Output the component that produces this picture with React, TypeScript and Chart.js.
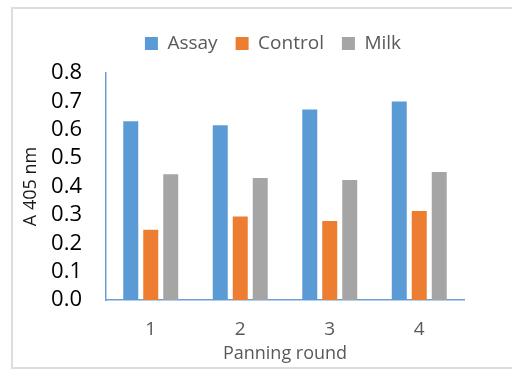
import React, { useEffect, useRef } from "react";
import { Chart, registerables } from "chart.js";

Chart.register(...registerables);

const categories = ["1", "2", "3", "4"];
const assay = [0.63, 0.616, 0.671, 0.7];
const control = [0.248, 0.294, 0.278, 0.314];
const milk = [0.443, 0.43, 0.423, 0.451];
const yTicks = [0, 0.1, 0.2, 0.3, 0.4, 0.5, 0.6, 0.7, 0.8];

const FONT = "'Open Sans', 'Noto Sans', sans-serif";
const AXIS_COLOR = "#6a9fd8";

const LEGEND_H = 57;
const LEGEND_SHIFT = 31;

const layoutTweaks = {
  id: "layoutTweaks",
  beforeLayout(chart: any) {
    const lg = chart.legend;
    if (lg && !lg.__patched) {
      const orig = lg.fit;
      lg.fit = function () {
        orig.call(this);
        this.height = LEGEND_H;
      };
      lg.__patched = true;
    }
  },
  afterLayout(chart: any) {
    const lg = chart.legend;
    if (lg) {
      lg.left += LEGEND_SHIFT;
      lg.right += LEGEND_SHIFT;
    }
  },
};

export default function App() {
  const ref = useRef<HTMLCanvasElement | null>(null);

  useEffect(() => {
    if (!ref.current) return;
    const chart = new Chart(ref.current, {
      type: "bar",
      data: {
        labels: categories,
        datasets: [
          { label: "Assay", data: assay, backgroundColor: "#5B9BD5" },
          { label: "Control", data: control, backgroundColor: "#ED7D31" },
          { label: "Milk", data: milk, backgroundColor: "#A5A5A5" },
        ],
      },
      plugins: [layoutTweaks],
      options: {
        animation: false,
        responsive: false,
        maintainAspectRatio: false,
        layout: { padding: { top: 16, left: 20, right: 48, bottom: 0 } },
        datasets: {
          bar: { categoryPercentage: 0.67, barPercentage: 0.75 },
        },
        plugins: {
          legend: {
            position: "top",
            labels: {
              boxWidth: 13,
              boxHeight: 13,
              padding: 18,
              color: "#595959",
              font: { family: FONT, size: 19 },
            },
          },
          tooltip: { enabled: false },
        },
        scales: {
          x: {
            afterFit: (s: any) => {
              s.height = 70;
            },
            grid: { display: false, drawTicks: false },
            border: { display: true, color: AXIS_COLOR, width: 1.5 },
            ticks: {
              color: "#595959",
              padding: 18,
              font: { family: FONT, size: 19 },
            },
            title: {
              display: true,
              text: "Panning round",
              color: "#595959",
              font: { family: FONT, size: 18 },
              padding: { top: 3, bottom: 5 },
            },
          },
          y: {
            min: 0,
            max: 0.8,
            afterFit: (s: any) => {
              s.width = 86;
            },
            afterBuildTicks: (axis: any) => {
              axis.ticks = yTicks.map((v) => ({ value: v }));
            },
            grid: { display: false, drawTicks: false },
            border: { display: true, color: AXIS_COLOR, width: 1.5 },
            ticks: {
              autoSkip: false,
              color: "#000000",
              padding: 24,
              font: { family: FONT, size: 22 },
              callback: (v: any) => Number(v).toFixed(1),
            },
            title: {
              display: true,
              text: "A 405 nm",
              color: "#1a1a1a",
              font: { family: FONT, size: 18 },
              padding: { top: 0, bottom: 9 },
            },
          },
        },
      },
    });
    return () => chart.destroy();
  }, []);

  return (
    <div
      style={{
        position: "fixed",
        left: 0,
        top: 0,
        width: 512,
        height: 370,
        overflow: "hidden",
        background: "#fff",
      }}
    >
      <div
        style={{
          position: "absolute",
          left: 11,
          top: 7,
          width: 530,
          height: 358,
          border: "2px solid #dcdcdc",
        }}
      />
      <canvas
        ref={ref}
        width={512}
        height={370}
        style={{ position: "absolute", left: 0, top: 0, width: 512, height: 370 }}
      />
    </div>
  );
}
